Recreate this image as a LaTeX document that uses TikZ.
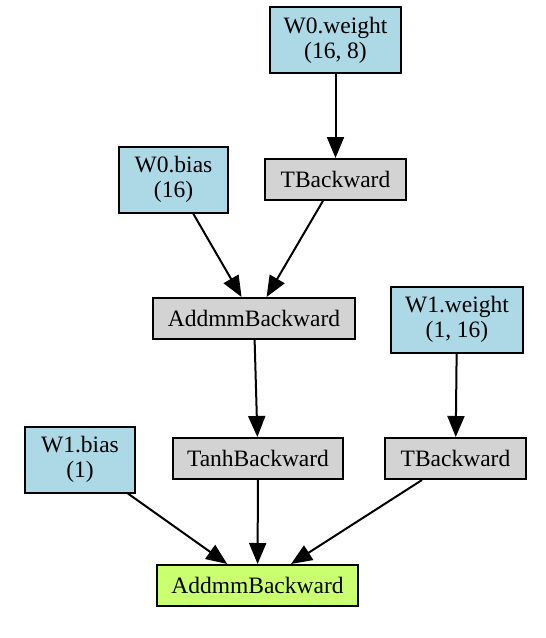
\documentclass[tikz,border=0pt]{standalone}
\usepackage{fontspec}
\setmainfont{Liberation Serif}
\usetikzlibrary{arrows.meta}
\definecolor{azulclaro}{HTML}{ADD8E6}
\definecolor{grisclaro}{HTML}{D3D3D3}
\definecolor{verdeclaro}{HTML}{CAFF70}
\begin{document}
\begin{tikzpicture}[x=1pt,y=-1pt,
    caja/.style={draw, line width=2pt, inner sep=0pt, minimum height=41pt,
      align=center, font=\fontsize{23.5}{25}\selectfont},
    param/.style={caja, fill=azulclaro, minimum height=66pt},
    oper/.style={caja, fill=grisclaro},
    flecha/.style={line width=2pt, -{Triangle[length=21pt,width=17pt]}}]
    \useasboundingbox (0,0) rectangle (546,638);

    % Parametros de la primera capa
    \node[param, minimum width=131pt] (w0peso) at (335.5,40) {W0.weight\\(16, 8)};
    \node[param, minimum width=109pt] (w0sesgo) at (173.5,179.5) {W0.bias\\(16)};

    % Transpuesta y producto de la primera capa
    \node[oper, minimum width=141pt] (trans0) at (335.5,179.5) {TBackward};
    \node[oper, minimum width=202pt] (addmm0) at (254,318.5) {AddmmBackward};

    % Parametros de la segunda capa
    \node[param, minimum width=132pt] (w1peso) at (457,319.5) {W1.weight\\(1, 16)};
    \node[param, minimum width=110pt] (w1sesgo) at (80,459.5) {W1.bias\\(1)};

    % Activacion y transpuesta de la segunda capa
    \node[oper, minimum width=170pt] (tanh) at (258,458.5) {TanhBackward};
    \node[oper, minimum width=141pt] (trans1) at (455.5,458.5) {TBackward};

    % Salida final
    \node[caja, fill=verdeclaro, minimum width=201pt] (addmm1) at (257.5,585.5) {AddmmBackward};

    % Flechas del grafo
    \draw[flecha] (w0peso) -- (trans0);
    \draw[flecha] (w0sesgo) -- (addmm0);
    \draw[flecha] (trans0) -- (addmm0);
    \draw[flecha] (addmm0) -- (tanh);
    \draw[flecha] (w1peso) -- (trans1);
    \draw[flecha] (w1sesgo) -- (addmm1);
    \draw[flecha] (tanh) -- (addmm1);
    \draw[flecha] (trans1) -- (addmm1);

  \end{tikzpicture}
\end{document}
